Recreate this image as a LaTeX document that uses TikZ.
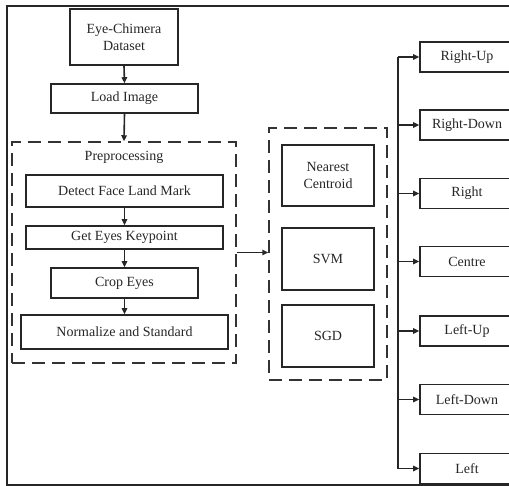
\documentclass[tikz,border=0pt]{standalone}
\usepackage{fontspec}
\setmainfont{Liberation Serif}
\usetikzlibrary{arrows.meta}

\tikzset{
  box/.style={draw=black!85, line width=1.6pt, inner sep=0pt, align=center,
    font=\fontsize{14}{16.5}\selectfont, text=black!85},
  group/.style={draw=black!80, line width=1.5pt, dash pattern=on 13pt off 7pt},
  arr/.style={line width=1.6pt, draw=black!85,
    -{Triangle[length=6pt,width=5.5pt]}},
  wire/.style={line width=1.6pt, draw=black!85},
  outcome/.style={box, minimum width=94pt, minimum height=30pt},
}

\begin{document}
\begin{tikzpicture}[x=1pt,y=-1pt]
  \useasboundingbox (0,0) rectangle (509,486);

  % outer frame (runs past the right edge)
  \draw[line width=2pt, draw=black!85] (530,6) -- (7,6) -- (7,485) -- (530,485);

  % input stage
  \node[box, minimum width=108pt, minimum height=56pt] (ds) at (124,37) {Eye-Chimera\\Dataset};
  \node[box, minimum width=147pt, minimum height=29pt] (load) at (124.5,98.5) {Load Image};

  % preprocessing group
  \node[group, minimum width=224pt, minimum height=221pt] (pre) at (124,252.5) {};
  \node[font=\fontsize{14}{16}\selectfont, text=black!85] (pretitle) at (124,157) {Preprocessing};
  \node[box, minimum width=197pt, minimum height=32pt] (detect) at (124.5,191) {Detect Face Land Mark};
  \node[box, minimum width=197pt, minimum height=23pt] (keyp) at (124.5,237.5) {Get Eyes Keypoint};
  \node[box, minimum width=147pt, minimum height=30pt] (crop) at (124.5,283) {Crop Eyes};
  \node[box, minimum width=207pt, minimum height=34pt] (norm) at (124.5,332) {Normalize and Standard};

  % classifier group
  \node[group, minimum width=118pt, minimum height=252pt] (cls) at (328,254) {};
  \node[box, minimum width=92pt, minimum height=61pt] (nc) at (328,175.5) {Nearest\\Centroid};
  \node[box, minimum width=92pt, minimum height=62pt] (svm) at (328,259) {SVM};
  \node[box, minimum width=92pt, minimum height=62pt] (sgd) at (328,336) {SGD};

  % gaze direction outcomes
  \node[outcome] (rup)   at (467,57)    {Right-Up};
  \node[outcome] (rdown) at (467,125)   {Right-Down};
  \node[outcome] (right) at (467,193.5) {Right};
  \node[outcome] (centre) at (467,261.5) {Centre};
  \node[outcome] (lup)   at (467,331)   {Left-Up};
  \node[outcome] (ldown) at (467,399.5) {Left-Down};
  \node[outcome] (left)  at (467,468.5) {Left};

  % flow arrows
  \draw[arr] (ds.south) -- (load.north);
  \draw[arr] (load.south) -- (pre.north);
  \draw[arr] (detect.south) -- (keyp.north);
  \draw[arr] (keyp.south) -- (crop.north);
  \draw[arr] (crop.south) -- (norm.north);
  \draw[arr] (pre.east) -- (pre.east -| cls.west);

  % distribution bus to the outcomes
  \coordinate (bus) at (398,0);
  \draw[wire] (bus |- rup.west) -- (bus |- left.west);
  \foreach \n in {rup,rdown,right,centre,lup,ldown,left}
    \draw[arr] (bus |- \n.west) -- (\n.west);
\end{tikzpicture}
\end{document}
